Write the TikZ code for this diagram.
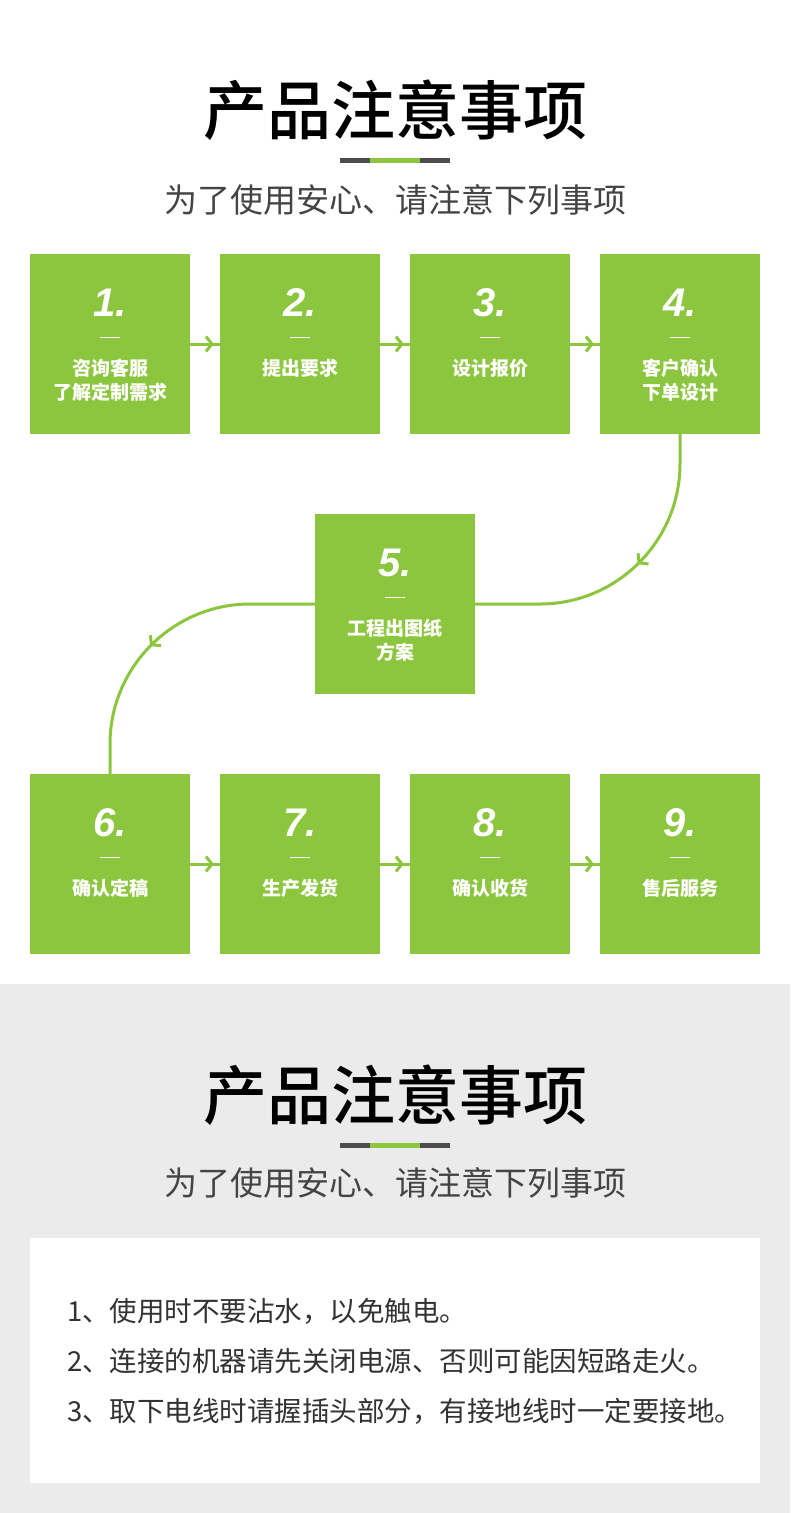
\documentclass[tikz,border=0pt]{standalone}
\usepackage{fontspec}
\setmainfont{Noto Sans CJK SC}
\newfontfamily\titlefont{Noto Sans CJK SC Medium}
\newfontfamily\numfont{Liberation Sans}
\usetikzlibrary{arrows.meta,decorations.markings}
\definecolor{grn}{HTML}{8CC63F}
\definecolor{bargray}{HTML}{4D4D4D}
\definecolor{subgray}{HTML}{444444}
\definecolor{bggray}{HTML}{EBEBEB}
\definecolor{bodytxt}{HTML}{333333}
\tikzset{
  fbox/.style={fill=grn, minimum width=160pt, minimum height=180pt, inner sep=0pt},
  numtxt/.style={text=white, font=\numfont\bfseries\itshape\fontsize{40}{40}\selectfont, inner sep=0pt},
  lbltxt/.style={text=white, align=center, font=\fontsize{19}{24}\selectfont\bfseries, inner sep=0pt},
  conn/.style={draw=grn, line width=3pt},
  chev/.style={postaction={decorate}, decoration={markings, mark=at position #1 with {\arrow[grn]{Straight Barb[length=6pt,width=15pt,line width=3pt]}}}},
  title/.style={font=\titlefont\fontsize{64}{70}\selectfont, text=black, inner sep=0pt},
  subtitle/.style={font=\fontsize{33}{36}\selectfont, text=subgray, inner sep=0pt},
  bodyline/.style={font=\fontsize{27.5}{30}\selectfont, text=bodytxt, anchor=west, inner sep=0pt}
}
\newcommand{\flowbox}[5]{%
  \node[fbox] (#1) at (#2,#3) {};
  \node[numtxt] (#1n) at ([yshift=41pt]#1.center) {#4};
  \draw[white, line width=0.8pt] ([xshift=-10pt,yshift=7pt]#1.center) -- ([xshift=10pt,yshift=7pt]#1.center);
  \node[lbltxt, anchor=north] (#1l) at ([yshift=-14.5pt]#1.center) {#5};
}
\begin{document}
\begin{tikzpicture}[x=1pt,y=-1pt]
\useasboundingbox (0,0) rectangle (790,1513);
\fill[white] (0,0) rectangle (790,984);
\fill[bggray] (0,984) rectangle (790,1513);
\fill[white] (30,1238) rectangle (760,1483);

% Section 1 heading
\node[title] (t1) at (395,110) {产品注意事项};
\draw[bargray, line width=5pt] (340,160) -- (450,160);
\draw[grn, line width=5pt] (370,160) -- (420,160);
\node[subtitle] (s1) at (395,200) {为了使用安心、请注意下列事项};

% Flow boxes
\flowbox{b1}{110}{344}{1.}{咨询客服\\了解定制需求}
\flowbox{b2}{300}{344}{2.}{提出要求}
\flowbox{b3}{490}{344}{3.}{设计报价}
\flowbox{b4}{680}{344}{4.}{客户确认\\下单设计}
\flowbox{b5}{395}{604}{5.}{工程出图纸\\方案}
\flowbox{b6}{110}{864}{6.}{确认定稿}
\flowbox{b7}{300}{864}{7.}{生产发货}
\flowbox{b8}{490}{864}{8.}{确认收货}
\flowbox{b9}{680}{864}{9.}{售后服务}

% Connectors
\draw[conn, chev=0.8] (b1.east) -- (b2.west);
\draw[conn, chev=0.8] (b2.east) -- (b3.west);
\draw[conn, chev=0.8] (b3.east) -- (b4.west);
\draw[conn, chev=0.45] (b4.south) -- (680,464) .. controls (680,541) and (617,604) .. (540,604) -- (b5.east);
\draw[conn, chev=0.56] (b5.west) -- (250,604) .. controls (173,604) and (110,667) .. (110,744) -- (b6.north);
\draw[conn, chev=0.8] (b6.east) -- (b7.west);
\draw[conn, chev=0.8] (b7.east) -- (b8.west);
\draw[conn, chev=0.8] (b8.east) -- (b9.west);

% Section 2 heading
\node[title] (t2) at (395,1095) {产品注意事项};
\draw[bargray, line width=5pt] (340,1145) -- (450,1145);
\draw[grn, line width=5pt] (370,1145) -- (420,1145);
\node[subtitle] (s2) at (395,1183) {为了使用安心、请注意下列事项};

% Notes
\node[bodyline] (n1) at (67,1311) {1、使用时不要沾水，以免触电。};
\node[bodyline] (n2) at (67,1361) {2、连接的机器请先关闭电源、否则可能因短路走火。};
\node[bodyline] (n3) at (67,1411) {3、取下电线时请握插头部分，有接地线时一定要接地。};
\end{tikzpicture}
\end{document}
